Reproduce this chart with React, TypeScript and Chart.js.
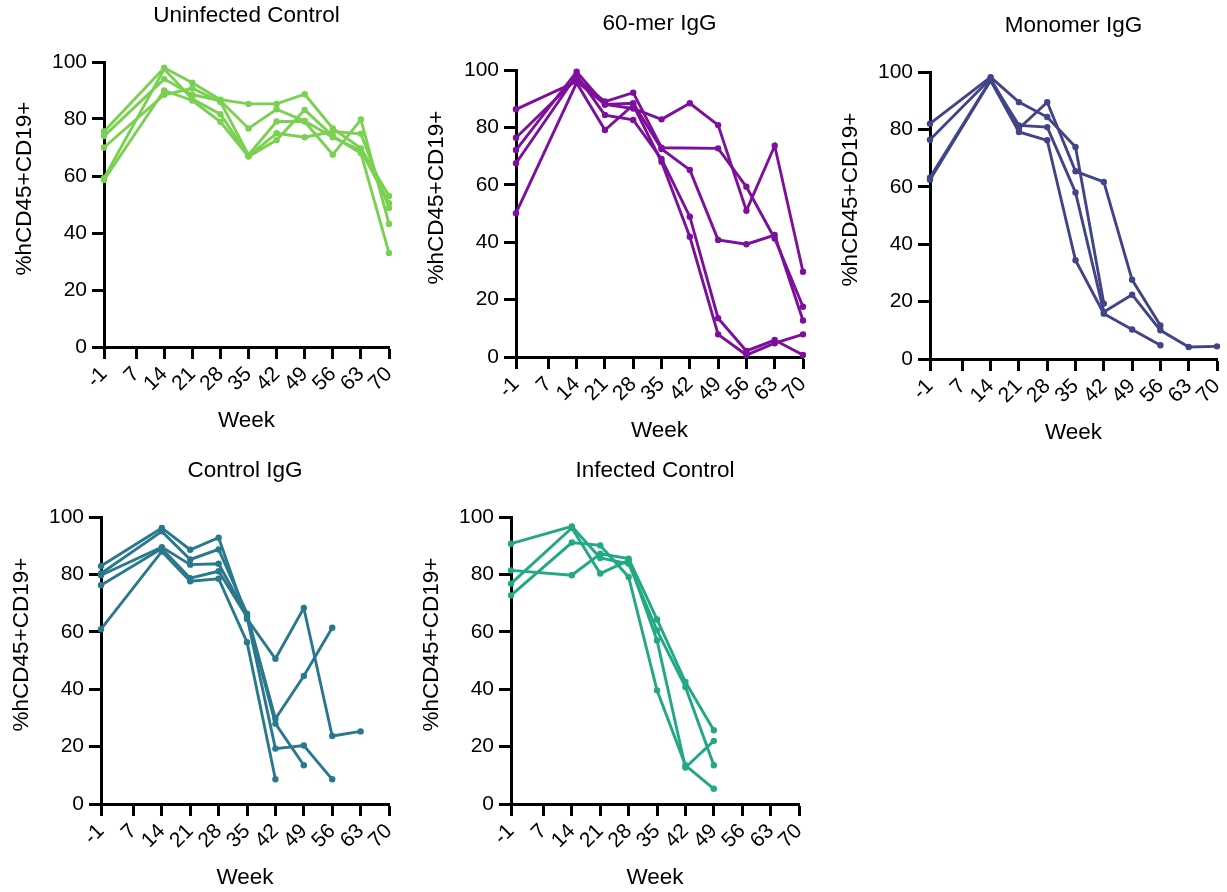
import React, { useEffect, useRef } from "react";
import { Chart, registerables } from "chart.js";

Chart.register(...registerables);

const FONT = '"Liberation Sans", Arial, Helvetica, sans-serif';

// ---- data ----
const weeks = [-1, 14, 21, 28, 35, 42, 49, 56, 63, 70];
const xTickValues = [-1, 7, 14, 21, 28, 35, 42, 49, 56, 63, 70];
const yTickValues = [0, 20, 40, 60, 80, 100];
const xAxisTitle = "Week";
const yAxisTitle = "%hCD45+CD19+";

const uninfectedControl = [
  [75.6, 98, 92.7, 86.8, 85.3, 85.3, 88.7, 76.7, 69.7, 53],
  [74, 94, 88.5, 86.5, 76.7, 83.4, 79.3, 73.6, 68.9, 50.5],
  [70, 88.5, 90.8, 86, 67.4, 79.1, 79.1, 67.5, 79.8, 43.2],
  [59.2, 97.5, 87, 81.7, 67, 75, 73.6, 75.6, 74.8, 48.8],
  [58.6, 90, 86.5, 79, 66.8, 72.6, 83.2, 74, 68, 33],
];

const sixtyMerIgG = [
  [86.3, 96, 88, 86.6, 82.8, 88.4, 80.8, 51, 73.6, 29.7],
  [76.4, 97, 89, 92.1, 72.9, null, 72.7, 59.3, 41.3, 17.5],
  [72.1, 99.4, 88, 88.4, 72.5, 65.2, 40.8, 39.3, 42.5, 12.7],
  [67.5, 98.2, 84.3, 82.6, 69, 48.9, 13.5, 2.1, 5.9, 0.7],
  [50.1, 95.5, 79.1, 87.8, 68, 41.9, 7.9, 0.7, 4.8, 7.9],
];

const monomerIgG = [
  [82, 98.2, 89.5, 84.3, 73.9, 19.3, null, null, null, null],
  [76.4, 97.7, 80.3, 89.5, 65.4, 61.7, 27.6, 11.7, null, null],
  [63.2, 97.2, 81.4, 80.8, 58, 16.4, 22.4, 10, 4.2, 4.4],
  [62.5, 97, 79.1, 76.2, 34.4, 15.8, 10.3, 4.8, null, null],
];

const controlIgG = [
  [82.9, 96.2, 88.6, 92.8, 64.5, 50.6, 68.3, 23.7, 25.3, null],
  [80.3, 95, 85.2, 88.7, 66.3, 29.7, 44.6, 61.4, null, null],
  [79.7, 89.5, 83.4, 83.7, 65.7, 28, 13.5, null, null, null],
  [76.2, 89, 78.7, 81.1, 65.2, 19.3, 20.4, 8.6, null, null],
  [60.9, 88, 77.6, 78.5, 56.4, 8.6, null, null, null, null],
];

const infectedControl = [
  [90.7, 96.7, 85.7, 83.7, 60.5, 40.8, 13.5, null, null, null],
  [81.4, 79.7, 87.2, 85.5, 64.3, 42.5, 25.7, null, null, null],
  [76.8, 96.2, 80.3, 84.9, 57, 12.7, 22, null, null, null],
  [72.7, 91.1, 90.1, 79.1, 39.6, 13.5, 5.3, null, null, null],
];

// ---- layout / style ----
type Panel = {
  title: string;
  series: (number | null)[][];
  color: string;
  box: { left: number; top: number; width: number; height: number };
  area: { left: number; top: number; right: number; bottom: number };
};

const panels: Panel[] = [
  {
    title: "Uninfected Control",
    series: uninfectedControl,
    color: "#7AD151",
    box: { left: 0, top: 0, width: 410, height: 450 },
    area: { left: 104, top: 62, right: 389, bottom: 347 },
  },
  {
    title: "60-mer IgG",
    series: sixtyMerIgG,
    color: "#7E0F9C",
    box: { left: 410, top: 0, width: 410, height: 450 },
    area: { left: 516, top: 70, right: 803, bottom: 357 },
  },
  {
    title: "Monomer IgG",
    series: monomerIgG,
    color: "#414487",
    box: { left: 820, top: 0, width: 407, height: 450 },
    area: { left: 930, top: 72, right: 1217, bottom: 359 },
  },
  {
    title: "Control IgG",
    series: controlIgG,
    color: "#2A788E",
    box: { left: 0, top: 450, width: 410, height: 442 },
    area: { left: 101, top: 517, right: 389, bottom: 804 },
  },
  {
    title: "Infected Control",
    series: infectedControl,
    color: "#22A884",
    box: { left: 410, top: 450, width: 410, height: 442 },
    area: { left: 511, top: 517, right: 799, bottom: 804 },
  },
];

const TITLE_SIZE = 22.5;
const TICK_SIZE = 21;
const LINE_H = 1.2;

function PanelChart({ panel }: { panel: Panel }) {
  const ref = useRef<HTMLCanvasElement | null>(null);

  useEffect(() => {
    if (!ref.current) return;
    const { box, area, color } = panel;
    const aL = area.left - box.left;
    const aT = area.top - box.top;
    const aR = area.right - box.left;
    const aB = area.bottom - box.top;
    const xAxisHeight = box.height - aB;
    const weekCenter = aB + 73.5;
    const weekPadBottom = box.height - weekCenter - (TITLE_SIZE * LINE_H) / 2;

    const textPlugin = {
      id: "panelText",
      afterDraw(chart: any) {
        const { ctx, chartArea } = chart;
        const { left, right, top, bottom } = chartArea;
        ctx.save();
        ctx.fillStyle = "#000";
        ctx.font = `${TITLE_SIZE}px ${FONT}`;
        ctx.textAlign = "center";
        ctx.textBaseline = "middle";
        ctx.fillText(panel.title, (left + right) / 2, top - 46);
        ctx.translate(left - 79.5, (top + bottom) / 2 - 16);
        ctx.rotate(-Math.PI / 2);
        ctx.fillText(yAxisTitle, 0, 0);
        ctx.restore();
      },
    };

    const zeroPad = (s: any) => {
      s.paddingLeft = 0;
      s.paddingRight = 0;
      s.paddingTop = 0;
      s.paddingBottom = 0;
    };

    const chart = new Chart(ref.current, {
      type: "line",
      data: {
        datasets: panel.series.map((vals) => ({
          data: weeks.map((w, i) => ({ x: w, y: vals[i] })),
          borderColor: color,
          backgroundColor: color,
          pointBackgroundColor: color,
          pointBorderColor: color,
          pointBorderWidth: 0,
          pointRadius: 3.2,
          borderWidth: 2.9,
          spanGaps: true,
          clip: false,
          tension: 0,
        })),
      },
      options: {
        responsive: false,
        animation: false,
        devicePixelRatio: 1,
        events: [],
        layout: {
          padding: { left: 0, top: aT, right: box.width - aR, bottom: 0 },
        },
        plugins: {
          legend: { display: false },
          title: { display: false },
          tooltip: { enabled: false },
        },
        scales: {
          x: {
            type: "linear",
            min: -1,
            max: 70,
            afterBuildTicks: (s: any) => {
              s.ticks = xTickValues.map((v) => ({ value: v }));
            },
            afterFit: (s: any) => {
              s.height = xAxisHeight;
              zeroPad(s);
            },
            ticks: {
              autoSkip: false,
              minRotation: 45,
              maxRotation: 45,
              color: "#000",
              padding: 3,
              font: { size: TICK_SIZE, family: FONT },
              callback: (v: any) => String(v),
            },
            grid: {
              drawOnChartArea: false,
              drawTicks: true,
              tickLength: 12,
              tickWidth: 3,
              tickColor: "#000",
            },
            border: { display: true, color: "#000", width: 3 },
            title: {
              display: true,
              text: xAxisTitle,
              color: "#000",
              font: { size: TITLE_SIZE, family: FONT, lineHeight: LINE_H },
              padding: { top: 0, bottom: weekPadBottom },
            },
          },
          y: {
            type: "linear",
            min: 0,
            max: 100,
            afterBuildTicks: (s: any) => {
              s.ticks = yTickValues.map((v) => ({ value: v }));
            },
            afterFit: (s: any) => {
              s.width = aL;
              zeroPad(s);
            },
            ticks: {
              color: "#000",
              padding: 5,
              font: { size: TICK_SIZE, family: FONT },
              callback: (v: any) => String(v),
            },
            grid: {
              drawOnChartArea: false,
              drawTicks: true,
              tickLength: 12,
              tickWidth: 3,
              tickColor: "#000",
            },
            border: { display: true, color: "#000", width: 3 },
          },
        },
      },
      plugins: [textPlugin],
    } as any);

    return () => chart.destroy();
  }, [panel]);

  return (
    <canvas
      ref={ref}
      width={panel.box.width}
      height={panel.box.height}
      style={{
        position: "absolute",
        left: panel.box.left,
        top: panel.box.top,
        width: panel.box.width,
        height: panel.box.height,
      }}
    />
  );
}

export default function App() {
  return (
    <div
      style={{
        position: "absolute",
        left: 0,
        top: 0,
        width: 1227,
        height: 892,
        background: "#fff",
        overflow: "hidden",
      }}
    >
      {panels.map((p) => (
        <PanelChart key={p.title} panel={p} />
      ))}
    </div>
  );
}
